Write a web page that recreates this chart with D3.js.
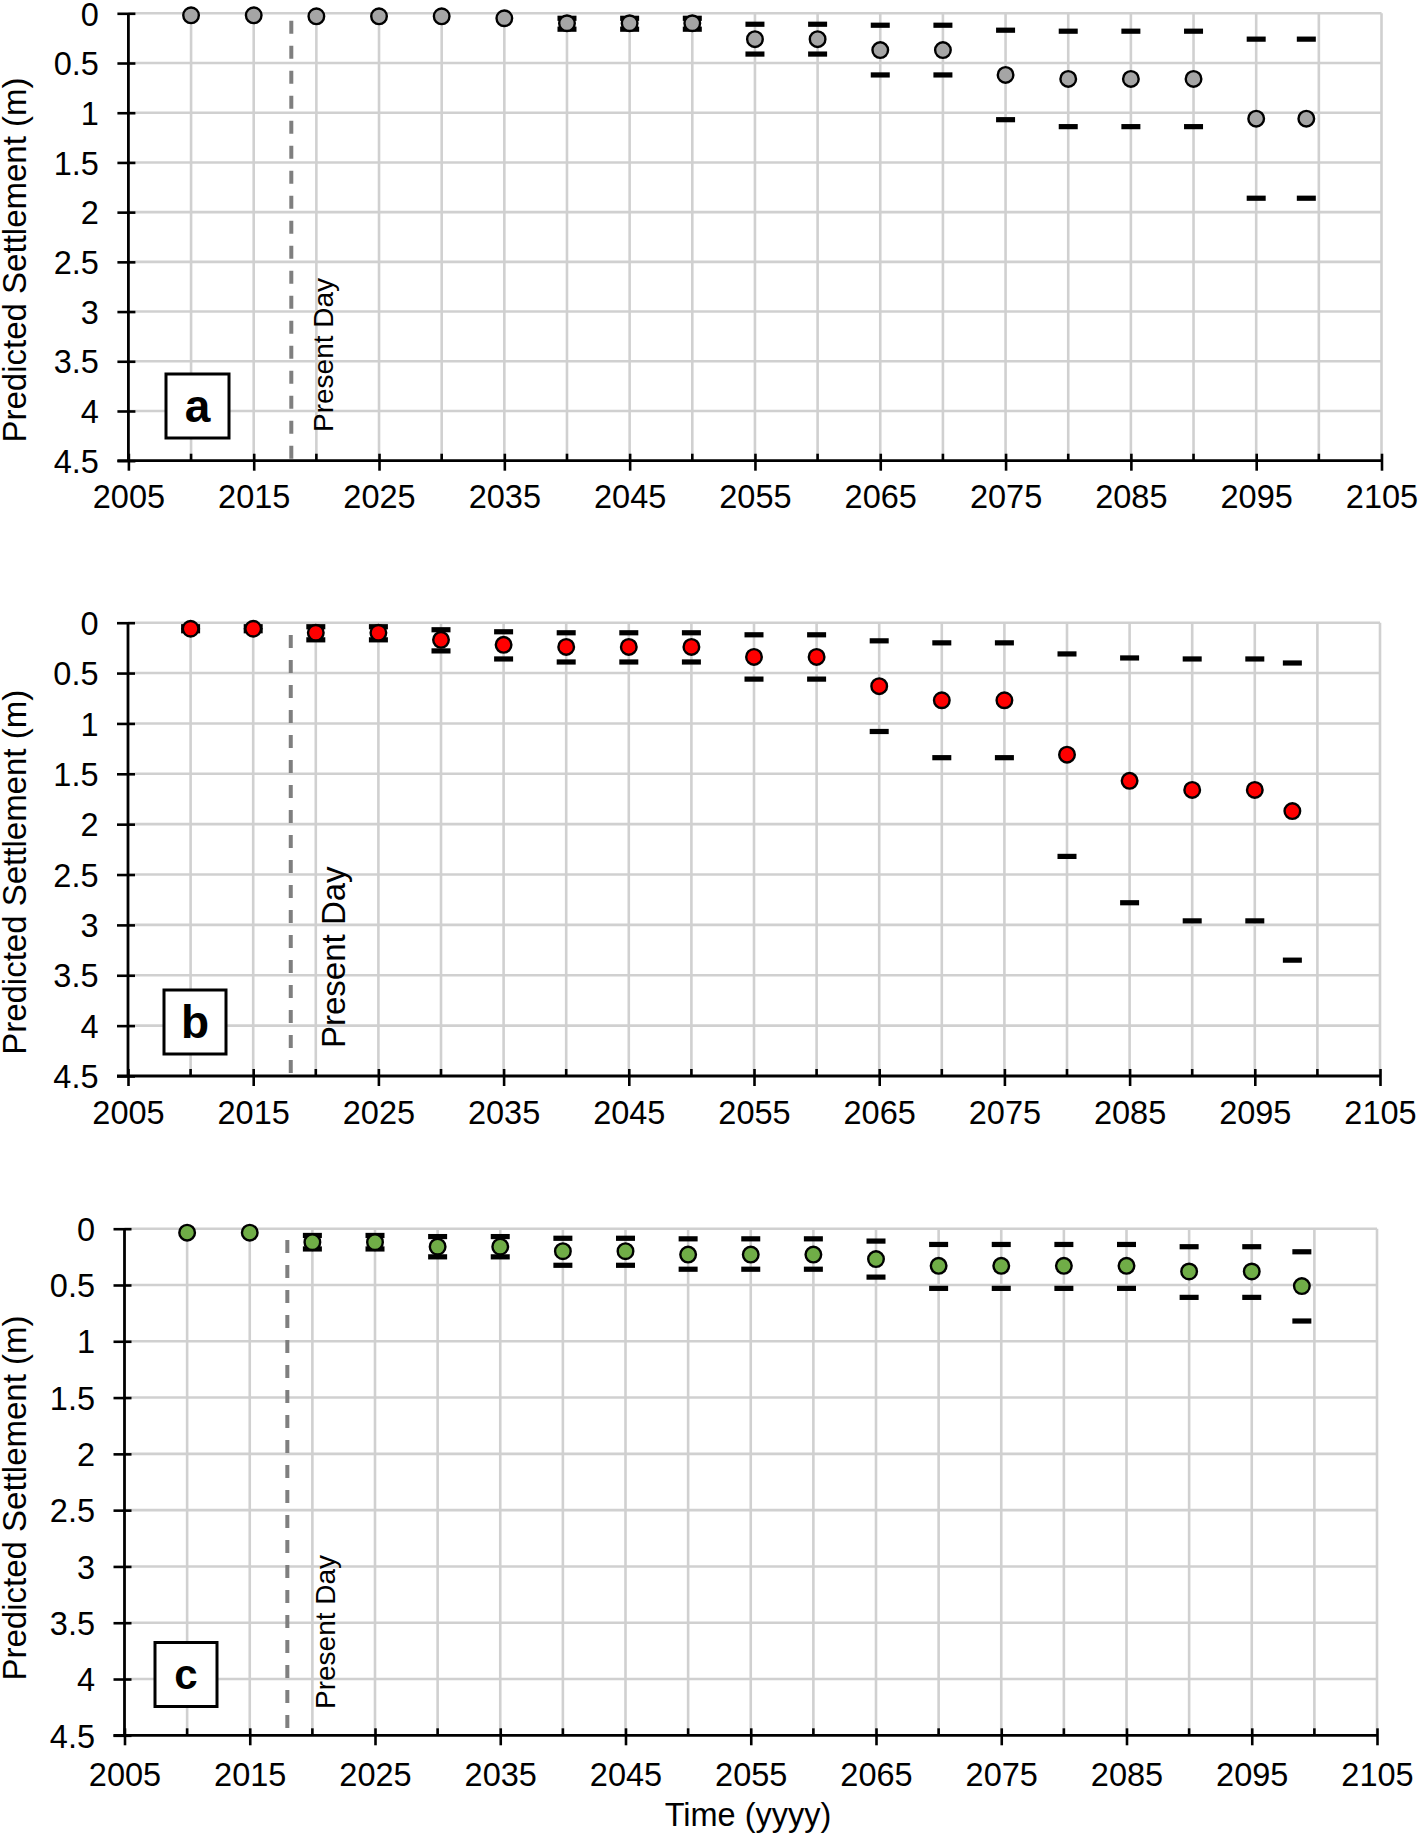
<!DOCTYPE html>
<html>
<head>
<meta charset="utf-8">
<script src="https://cdn.jsdelivr.net/npm/d3@7"></script>
<style>
  html, body { margin: 0; padding: 0; background: #fff; }
  svg { display: block; }
  text { font-family: "Liberation Sans", Arial, Helvetica, sans-serif; fill: #000; }
</style>
</head>
<body>
<svg id="chart" width="1418" height="1834"></svg>
<script>
// ---- data ----
var yearsA = [2010, 2015, 2020, 2025, 2030, 2035, 2040, 2045, 2050, 2055, 2060, 2065, 2070, 2075, 2080, 2085, 2090, 2095, 2099];
var meanA  = [0.02, 0.02, 0.03, 0.03, 0.03, 0.05, 0.10, 0.10, 0.10, 0.26, 0.26, 0.37, 0.37, 0.62, 0.66, 0.66, 0.66, 1.06, 1.06];
var lowA   = [null, null, null, null, null, null, 0.05, 0.05, 0.05, 0.11, 0.11, 0.12, 0.12, 0.17, 0.18, 0.18, 0.18, 0.26, 0.26];
var highA  = [null, null, null, null, null, null, 0.16, 0.16, 0.16, 0.41, 0.41, 0.62, 0.62, 1.07, 1.14, 1.14, 1.14, 1.86, 1.86];

var yearsB = [2010, 2015, 2020, 2025, 2030, 2035, 2040, 2045, 2050, 2055, 2060, 2065, 2070, 2075, 2080, 2085, 2090, 2095, 2098];
var meanB  = [0.06, 0.06, 0.10, 0.10, 0.17, 0.22, 0.24, 0.24, 0.24, 0.34, 0.34, 0.63, 0.77, 0.77, 1.31, 1.57, 1.66, 1.66, 1.87];
var lowB   = [0.04, 0.04, 0.04, 0.04, 0.07, 0.09, 0.10, 0.10, 0.10, 0.12, 0.12, 0.18, 0.20, 0.20, 0.31, 0.35, 0.36, 0.36, 0.40];
var highB  = [0.08, 0.08, 0.17, 0.17, 0.28, 0.36, 0.39, 0.39, 0.39, 0.56, 0.56, 1.08, 1.34, 1.34, 2.32, 2.78, 2.96, 2.96, 3.35];

var yearsC = [2010, 2015, 2020, 2025, 2030, 2035, 2040, 2045, 2050, 2055, 2060, 2065, 2070, 2075, 2080, 2085, 2090, 2095, 2099];
var meanC  = [0.035, 0.035, 0.12, 0.12, 0.16, 0.16, 0.20, 0.20, 0.23, 0.23, 0.23, 0.27, 0.33, 0.33, 0.33, 0.33, 0.38, 0.38, 0.51];
var lowC   = [null, null, 0.06, 0.06, 0.07, 0.07, 0.085, 0.085, 0.09, 0.09, 0.09, 0.11, 0.14, 0.14, 0.14, 0.14, 0.16, 0.16, 0.205];
var highC  = [null, null, 0.18, 0.18, 0.25, 0.25, 0.325, 0.325, 0.36, 0.36, 0.36, 0.43, 0.53, 0.53, 0.53, 0.53, 0.61, 0.61, 0.82];

var yTickValues = [0, 0.5, 1, 1.5, 2, 2.5, 3, 3.5, 4, 4.5];
var xMajorTicks = [2005, 2015, 2025, 2035, 2045, 2055, 2065, 2075, 2085, 2095, 2105];
var xMinorTicks = [2010, 2020, 2030, 2040, 2050, 2060, 2070, 2080, 2090, 2100];
var xGridYears  = d3.range(2010, 2101, 5);
var presentDay  = 2018;

var yTitle = "Predicted Settlement (m)";
var xTitle = "Time (yyyy)";
var presentLabel = "Present Day";

// ---- layout per panel ----
var panels = [
    { label: "a", years: yearsA, mean: meanA, low: lowA, high: highA, fill: "#a5a5a5",
      left: 128.4, right: 1381.5, top: 13.3, bottom: 460.7,
      lineStart: 20.7, pdFont: 28, pdX: 333, pdY: 432,
      box: [166, 374, 63, 64], boxFont: 46, tickBase: 47.6 },
    { label: "b", years: yearsB, mean: meanB, low: lowB, high: highB, fill: "#ff0000",
      left: 128, right: 1380, top: 622.7, bottom: 1076,
      lineStart: 635, pdFont: 33, pdX: 345, pdY: 1048,
      box: [164, 990, 62, 64], boxFont: 46, tickBase: 47.6 },
    { label: "c", years: yearsC, mean: meanC, low: lowC, high: highC, fill: "#70ad47",
      left: 124.5, right: 1377, top: 1228.7, bottom: 1735.3,
      lineStart: 1240, pdFont: 28, pdX: 334.5, pdY: 1709,
      box: [155, 1642.5, 62, 64], boxFont: 42, tickBase: 51, xTitle: true }
];

var svg = d3.select("#chart");
var gridColor = "#d0d0d0";

panels.forEach(function (p) {
    var x = d3.scaleLinear().domain([2005, 2105]).range([p.left, p.right]);
    var y = d3.scaleLinear().domain([0, 4.5]).range([p.top, p.bottom]);
    var g = svg.append("g").attr("class", "panel-" + p.label);

    // gridlines
    g.selectAll("line.hgrid").data(yTickValues.slice(0, -1)).enter().append("line")
        .attr("x1", p.left).attr("x2", p.right)
        .attr("y1", function (d) { return y(d); }).attr("y2", function (d) { return y(d); })
        .style("stroke", gridColor).style("stroke-width", 2.6);
    g.selectAll("line.vgrid").data(xGridYears.concat([2105])).enter().append("line")
        .attr("x1", function (d) { return x(d); }).attr("x2", function (d) { return x(d); })
        .attr("y1", p.top).attr("y2", p.bottom)
        .style("stroke", gridColor).style("stroke-width", 2.6);

    // present day line
    g.append("line")
        .attr("x1", x(presentDay)).attr("x2", x(presentDay))
        .attr("y1", p.lineStart).attr("y2", p.bottom)
        .style("stroke", "#7f7f7f").style("stroke-width", 4)
        .style("stroke-dasharray", "13 12");

    g.append("text")
        .attr("transform", "translate(" + p.pdX + "," + p.pdY + ") rotate(-90)")
        .style("font-size", p.pdFont + "px")
        .text(presentLabel);

    // y axis
    var yAxis = d3.axisLeft(y).tickValues(yTickValues).tickSize(0).tickPadding(29.5)
        .tickFormat(function (d) { return String(d); });
    var yg = g.append("g").attr("transform", "translate(" + p.left + ",0)").call(yAxis);
    yg.select(".domain").remove();
    yg.selectAll(".tick text").style("font-size", "32.5px")
        .style("font-family", '"Liberation Sans", Arial, sans-serif').attr("dy", "0.36em");
    yg.selectAll(".tick line").attr("x1", 7).attr("x2", -11)
        .style("stroke", "#000").style("stroke-width", 2.6);

    // x axis
    var xAxis = d3.axisBottom(x).tickValues(xMajorTicks).tickSize(0).tickPadding(0)
        .tickFormat(function (d) { return String(d); });
    var xg = g.append("g").attr("transform", "translate(0," + p.bottom + ")").call(xAxis);
    xg.select(".domain").remove();
    xg.selectAll(".tick text").style("font-size", "32.5px")
        .style("font-family", '"Liberation Sans", Arial, sans-serif')
        .attr("y", p.tickBase).attr("dy", 0);
    xg.selectAll(".tick line").attr("y1", -7).attr("y2", 10)
        .style("stroke", "#000").style("stroke-width", 2.6);
    g.selectAll("line.minor").data(xMinorTicks).enter().append("line")
        .attr("x1", function (d) { return x(d); }).attr("x2", function (d) { return x(d); })
        .attr("y1", p.bottom - 7).attr("y2", p.bottom)
        .style("stroke", "#000").style("stroke-width", 2.6);

    // axis lines
    g.append("line").attr("x1", p.left).attr("x2", p.left)
        .attr("y1", p.top).attr("y2", p.bottom)
        .style("stroke", "#000").style("stroke-width", 2.8);
    g.append("line").attr("x1", p.left - 11).attr("x2", p.right)
        .attr("y1", p.bottom).attr("y2", p.bottom)
        .style("stroke", "#000").style("stroke-width", 2.8);

    // y axis title
    g.append("text")
        .attr("transform", "translate(26," + ((p.top + p.bottom) / 2 + (p.label === "c" ? 16 : 23)) + ") rotate(-90)")
        .attr("text-anchor", "middle")
        .style("font-size", "33px")
        .text(yTitle);

    // panel label box
    g.append("rect")
        .attr("x", p.box[0]).attr("y", p.box[1]).attr("width", p.box[2]).attr("height", p.box[3])
        .style("fill", "#fff").style("stroke", "#000").style("stroke-width", 3);
    g.append("text")
        .attr("x", p.box[0] + p.box[2] / 2).attr("y", p.box[1] + p.box[3] / 2)
        .attr("dy", "0.34em").attr("text-anchor", "middle")
        .style("font-size", p.boxFont + "px").style("font-weight", "bold")
        .text(p.label);

    // error caps (drawn behind markers)
    var rows = p.years.map(function (yr, i) {
        return { year: yr, mean: p.mean[i], low: p.low[i], high: p.high[i] };
    });
    var caps = [];
    rows.forEach(function (r) {
        if (r.low !== null) caps.push({ year: r.year, v: r.low });
        if (r.high !== null) caps.push({ year: r.year, v: r.high });
    });
    g.selectAll("rect.cap").data(caps).enter().append("rect")
        .attr("class", "cap")
        .attr("x", function (d) { return x(d.year) - 9.5; })
        .attr("y", function (d) { return y(d.v) - 2.6; })
        .attr("width", 19).attr("height", 5.2)
        .style("fill", "#000");

    g.selectAll("circle.pt").data(rows).enter().append("circle")
        .attr("class", "pt")
        .attr("cx", function (d) { return x(d.year); })
        .attr("cy", function (d) { return y(d.mean); })
        .attr("r", 7.8)
        .style("fill", p.fill).style("stroke", "#000").style("stroke-width", 2.4);

    if (p.xTitle) {
        svg.append("text")
            .attr("x", 748).attr("y", 1825.7)
            .attr("text-anchor", "middle")
            .style("font-size", "32.5px")
            .text(xTitle);
    }
});
</script>
</body>
</html>
